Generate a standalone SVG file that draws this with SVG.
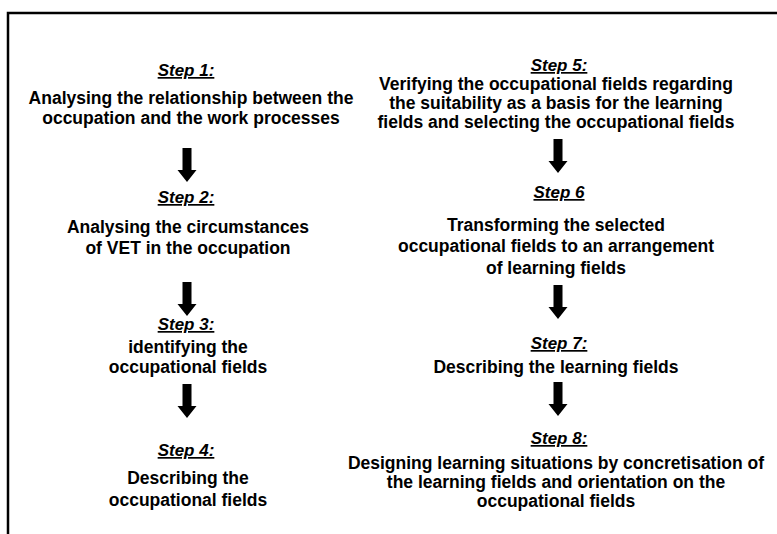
<svg xmlns="http://www.w3.org/2000/svg" width="777" height="534" viewBox="0 0 777 534">
<defs>
<style>
text{font-family:"Liberation Sans",Arial,sans-serif;font-weight:bold;fill:#000;text-anchor:middle}
.t{font-size:17.5px}
.s{font-size:17px;font-style:italic;text-decoration:underline}
.frame{stroke:#000;stroke-width:2.5;fill:none}
.arr{fill:#000}
</style>
<path id="arrow" class="arr" d="M-4.5,0 H4.5 V22 H9.5 L0,34 L-9.5,22 H-4.5 Z"/>
</defs>
<rect width="777" height="534" fill="#fff"/>
<path class="frame" d="M8,534 V13 H777"/>
<g id="step1">
<text class="s" x="186" y="76">Step 1:</text>
<text class="t" x="191" y="104">Analysing the relationship between the</text>
<text class="t" x="191" y="124">occupation and the work processes</text>
</g>
<g id="step2">
<text class="s" x="186" y="203">Step 2:</text>
<text class="t" x="188" y="233">Analysing the circumstances</text>
<text class="t" x="188" y="254">of VET in the occupation</text>
</g>
<g id="step3">
<text class="s" x="186" y="330">Step 3:</text>
<text class="t" x="188" y="353">identifying the</text>
<text class="t" x="188" y="373">occupational fields</text>
</g>
<g id="step4">
<text class="s" x="186" y="456">Step 4:</text>
<text class="t" x="188" y="484">Describing the</text>
<text class="t" x="188" y="506">occupational fields</text>
</g>
<g id="step5">
<text class="s" x="559" y="71">Step 5:</text>
<text class="t" x="556" y="90">Verifying the occupational fields regarding</text>
<text class="t" x="556" y="109">the suitability as a basis for the learning</text>
<text class="t" x="556" y="128">fields and selecting the occupational fields</text>
</g>
<g id="step6">
<text class="s" x="559" y="198">Step 6</text>
<text class="t" x="556" y="231">Transforming the selected</text>
<text class="t" x="556" y="252">occupational fields to an arrangement</text>
<text class="t" x="556" y="274">of learning fields</text>
</g>
<g id="step7">
<text class="s" x="559" y="349">Step 7:</text>
<text class="t" x="556" y="373">Describing the learning fields</text>
</g>
<g id="step8">
<text class="s" x="559" y="444">Step 8:</text>
<text class="t" x="556" y="469">Designing learning situations by concretisation of</text>
<text class="t" x="556" y="488">the learning fields and orientation on the</text>
<text class="t" x="556" y="507">occupational fields</text>
</g>
<g id="connectors">
<use href="#arrow" x="187" y="148"/>
<use href="#arrow" x="187" y="282"/>
<use href="#arrow" x="187" y="384"/>
<use href="#arrow" x="558" y="139"/>
<use href="#arrow" x="558" y="285"/>
<use href="#arrow" x="558" y="382"/>
</g>
</svg>
